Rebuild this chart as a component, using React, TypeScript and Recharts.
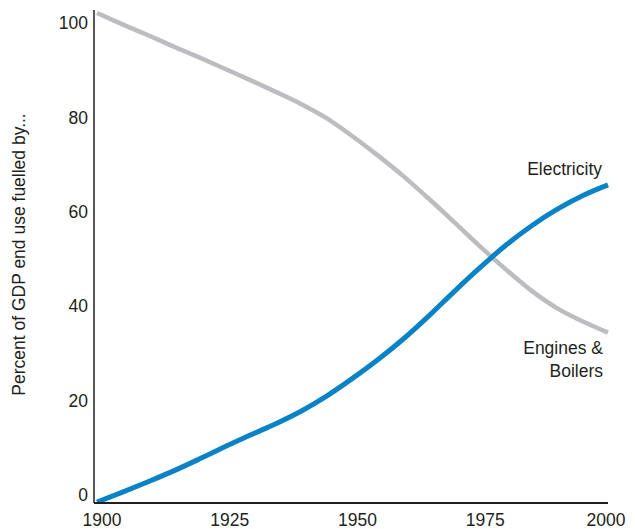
import React from 'react'
import { LineChart, Line, XAxis, YAxis, Label, LabelList } from 'recharts'

const years = [1900, 1905, 1910, 1915, 1920, 1925, 1930, 1935, 1940, 1945, 1950, 1955, 1960, 1965, 1970, 1975, 1980, 1985, 1990, 1995, 2000]
const electricity = [-1.5, 0.6, 2.8, 5.1, 7.6, 10.2, 12.7, 15.1, 17.8, 21.0, 24.7, 28.7, 33.1, 38.0, 43.2, 48.2, 52.9, 57.0, 60.5, 63.4, 65.7]
const enginesBoilers = [102.1, 99.7, 97.4, 95.0, 92.7, 90.3, 87.9, 85.4, 82.8, 79.8, 76.0, 71.9, 67.5, 62.7, 57.7, 52.6, 47.8, 43.3, 39.6, 36.8, 34.4]
const xTicks = [1900, 1925, 1950, 1975, 2000]
const yTicks = [0, 20, 40, 60, 80, 100]

const FONT = '"Liberation Sans", Arial, Helvetica, sans-serif'
const TEXT = '#231f20'
const FS = 17.5

const data = years.map((year, i) => ({
  year,
  electricity: electricity[i],
  engines: enginesBoilers[i],
}))

const XTick = (props: any) => {
  const { x, y, payload } = props
  const dx = payload.value === 2000 ? -2 : 5
  return (
    <text x={x + dx} y={y} dy="0.71em" textAnchor="middle" fill={TEXT} fontSize={FS} fontFamily={FONT}>
      {payload.value}
    </text>
  )
}

const lastIdx = data.length - 1

export default function App() {
  return (
    <LineChart width={627} height={521} data={data} margin={{ top: 2, right: 27, bottom: 0, left: 0 }}>
      <XAxis
        dataKey="year"
        type="number"
        domain={[1900, 2000]}
        ticks={xTicks}
        padding={{ left: 3, right: 0 }}
        height={26}
        tickLine={false}
        tickSize={9}
        tick={<XTick />}
        axisLine={{ stroke: TEXT, strokeWidth: 2 }}
      />
      <YAxis
        type="number"
        domain={[-1.7, 102.75]}
        ticks={yTicks}
        allowDataOverflow
        width={86}
        tickLine={false}
        tickSize={4}
        tickMargin={2}
        tick={{ fill: TEXT, fontSize: FS, fontFamily: FONT }}
        axisLine={{ stroke: TEXT, strokeWidth: 1.5 }}
      >
        <Label
          content={(p: any) => {
            const vb = p.viewBox || {}
            const cx = vb.x + 11
            const cy = vb.y + vb.height / 2 - 2
            return (
              <text
                x={cx}
                y={cy}
                transform={`rotate(-90, ${cx}, ${cy})`}
                textAnchor="middle"
                dominantBaseline="central"
                fill={TEXT}
                fontSize={FS}
                fontFamily={FONT}
              >
                Percent of GDP end use fuelled by...
              </text>
            )
          }}
        />
      </YAxis>
      <Line
        type="monotone"
        dataKey="engines"
        stroke="#bcbdc0"
        strokeWidth={4.5}
        dot={false}
        isAnimationActive={false}
      >
        <LabelList
          dataKey="engines"
          content={(p: any) =>
            p.index === lastIdx ? (
              <text textAnchor="end" fill={TEXT} fontSize={FS} fontFamily={FONT}>
                <tspan x={p.x - 5} y={p.y + 21}>Engines &amp;</tspan>
                <tspan x={p.x - 5} y={p.y + 44}>Boilers</tspan>
              </text>
            ) : null
          }
        />
      </Line>
      <Line
        type="monotone"
        dataKey="electricity"
        stroke="#0a83c6"
        strokeWidth={5}
        dot={false}
        isAnimationActive={false}
      >
        <LabelList
          dataKey="electricity"
          content={(p: any) =>
            p.index === lastIdx ? (
              <text x={p.x - 6} y={p.y - 10} textAnchor="end" fill={TEXT} fontSize={FS} fontFamily={FONT}>
                Electricity
              </text>
            ) : null
          }
        />
      </Line>
    </LineChart>
  )
}
